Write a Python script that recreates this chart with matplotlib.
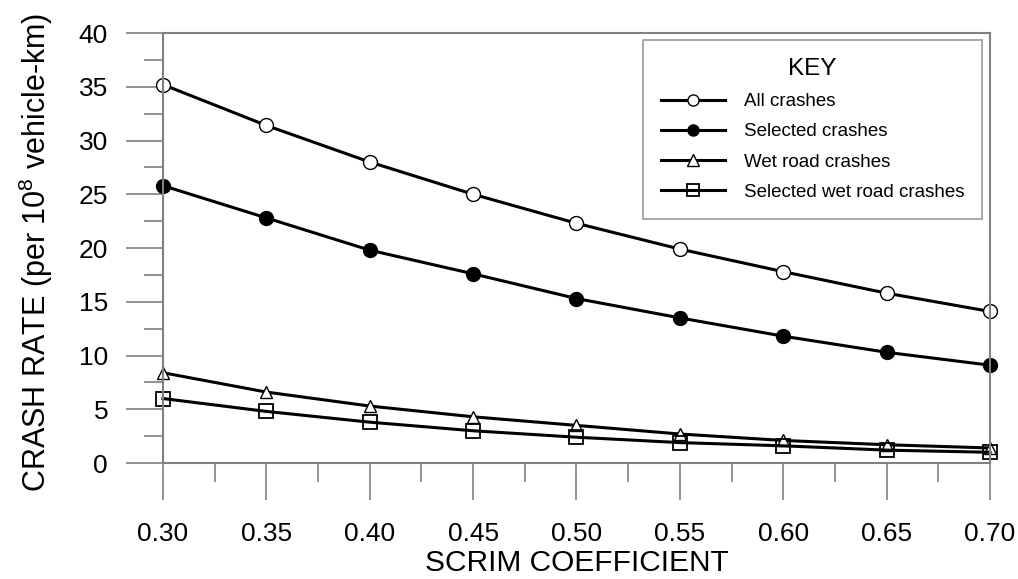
import numpy as np
import matplotlib.pyplot as plt
from matplotlib.ticker import MultipleLocator, FormatStrFormatter

plt.rcParams['font.family'] = ['Liberation Sans', 'DejaVu Sans']

# crash rates against SCRIM coefficient
scrim = [0.30, 0.35, 0.40, 0.45, 0.50, 0.55, 0.60, 0.65, 0.70]
all_crashes = [35.2, 31.4, 28.0, 25.0, 22.3, 19.9, 17.8, 15.8, 14.1]
selected_crashes = [25.8, 22.8, 19.8, 17.6, 15.3, 13.5, 11.8, 10.3, 9.1]
wet_crashes = [8.4, 6.6, 5.3, 4.3, 3.5, 2.7, 2.1, 1.7, 1.4]
selected_wet_crashes = [6.0, 4.8, 3.8, 3.0, 2.4, 1.9, 1.6, 1.2, 1.0]

labels = ['All crashes', 'Selected crashes', 'Wet road crashes',
          'Selected wet road crashes']

grey = '#808080'

fig = plt.figure(figsize=(10.18, 5.79), dpi=100)
ax = fig.add_axes([0.1601, 0.2003, 0.8124, 0.7427])

ax.plot(scrim, all_crashes, color='black', lw=2.2, marker='o', ms=10,
        mfc='white', mec='black', mew=1.0, label=labels[0], clip_on=False)
ax.plot(scrim, selected_crashes, color='black', lw=2.2, marker='o', ms=10,
        mfc='black', mec='black', label=labels[1], clip_on=False)
ax.plot(scrim, wet_crashes, color='black', lw=2.2, marker='^', ms=9,
        mfc='white', mec='black', mew=1.0, label=labels[2], clip_on=False)
ax.plot(scrim, selected_wet_crashes, color='black', lw=2.2, marker='s', ms=10,
        mfc='none', mec='black', mew=1.3, label=labels[3], clip_on=False)

ax.set_xlim(0.30, 0.70)
ax.set_ylim(0, 40)

# grey frame on all four sides
for side in ['left', 'bottom', 'top', 'right']:
    ax.spines[side].set_color(grey)
    ax.spines[side].set_linewidth(1.5)

ax.xaxis.set_major_locator(MultipleLocator(0.05))
ax.xaxis.set_minor_locator(MultipleLocator(0.025))
ax.xaxis.set_major_formatter(FormatStrFormatter('%.2f'))
ax.yaxis.set_major_locator(MultipleLocator(5))
ax.yaxis.set_minor_locator(MultipleLocator(2.5))

ax.tick_params(axis='both', which='major', direction='out', length=26.5,
               width=1.2, color=grey, labelsize=19)
ax.tick_params(axis='both', which='minor', direction='out', length=13.5,
               width=1.2, color=grey)
ax.tick_params(axis='x', which='major', pad=16)
ax.tick_params(axis='y', which='major', pad=13)

ax.set_xlabel('SCRIM COEFFICIENT', fontsize=21.5, va='center')
ax.xaxis.set_label_coords(0.5, -0.2326)
ax.set_ylabel('CRASH RATE (per $\\mathregular{10^8}$ vehicle-km)', fontsize=22,
              va='center')
ax.yaxis.set_label_coords(-0.1536, 0.49)

leg = ax.legend(loc='upper right', bbox_to_anchor=(0.9903, 0.9837),
                title='KEY', fontsize=13.5, title_fontsize=17.5, frameon=True,
                fancybox=False, edgecolor=grey, handlelength=3.4,
                borderpad=0.95, labelspacing=0.7, handletextpad=1.0,
                borderaxespad=0.0)
leg.get_frame().set_linewidth(1.2)
for h in leg.legend_handles:
    h.set_markersize(8)
    h.set_linewidth(2.2)

fig.savefig('out.png', dpi=100)
